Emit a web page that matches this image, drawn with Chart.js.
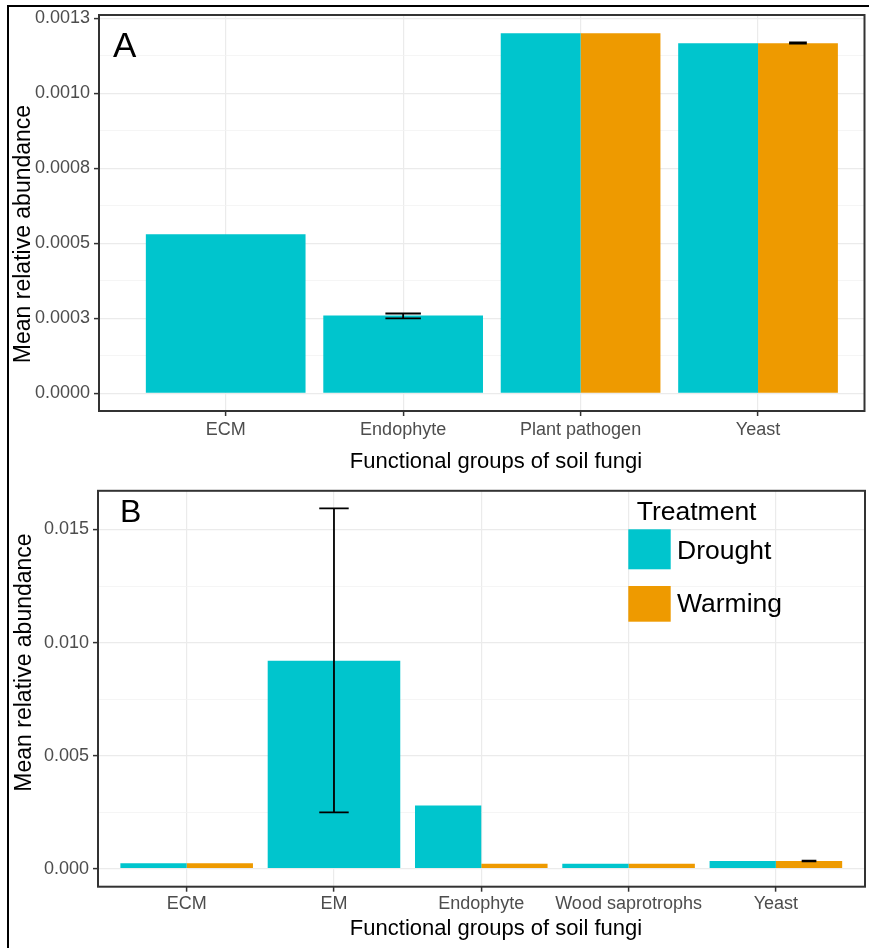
<!DOCTYPE html>
<html>
<head>
<meta charset="utf-8">
<script src="https://cdn.jsdelivr.net/npm/chart.js@4.4.0/dist/chart.umd.min.js"></script>
<style>
  html, body { margin: 0; padding: 0; background: #fff; }
  #page { position: relative; width: 869px; height: 948px; overflow: hidden; }
  #frame { position: absolute; left: 7px; top: 5px; right: -4px; bottom: -4px; border-top: 2px solid #000; border-left: 2px solid #000; }
  #panelA { position: absolute; left: 0; top: 0; }
  #panelB { position: absolute; left: 0; top: 476px; }
</style>
</head>
<body>
<div id="page">
  <div id="frame"></div>
  <canvas id="panelA" width="869" height="476"></canvas>
  <canvas id="panelB" width="869" height="472"></canvas>
</div>
<script>
// --- panel A data ---
const groupsA = ['ECM', 'Endophyte', 'Plant pathogen', 'Yeast'];
const droughtA = [0.00053, 0.000259, 0.0012, 0.001167];
const warmingA = [null, null, 0.0012, 0.001167];
const droughtErrA = [null, [0.00025, 0.000266], null, null];
const warmingErrA = [null, null, null, [0.001166, 0.00117]];
const yMajorA = [0, 0.00025, 0.0005, 0.00075, 0.001, 0.00125];
const yLabelsA = ['0.0000', '0.0003', '0.0005', '0.0008', '0.0010', '0.0013'];
const yMinorA = [0.000125, 0.000375, 0.000625, 0.000875, 0.001125];

// --- panel B data ---
const groupsB = ['ECM', 'EM', 'Endophyte', 'Wood saprotrophs', 'Yeast'];
const droughtB = [0.00024, 0.0092, 0.00279, 0.00022, 0.00034];
const warmingB = [0.00024, null, 0.00022, 0.00022, 0.00034];
const droughtErrB = [null, [0.00249, 0.01593], null, null, null];
const warmingErrB = [null, null, null, null, [0.00033, 0.00036]];
const yMajorB = [0, 0.005, 0.01, 0.015];
const yLabelsB = ['0.000', '0.005', '0.010', '0.015'];
const yMinorB = [0.0025, 0.0075, 0.0125];

const treatments = ['Drought', 'Warming'];
const legendTitle = 'Treatment';
const xTitle = 'Functional groups of soil fungi';
const yTitle = 'Mean relative abundance';
const colors = ['#00C5CD', '#EE9A00'];

const FONT = '"Liberation Sans", Arial, Helvetica, sans-serif';
Chart.defaults.font.family = FONT;

// panel border, error bars, axis titles, panel letter and legend
const panelExtras = {
  id: 'panelExtras',
  afterDatasetsDraw(chart, args, opts) {
    const ctx = chart.ctx;
    const area = chart.chartArea;
    const yScale = chart.scales.y;

    // error bars
    ctx.save();
    ctx.strokeStyle = '#000';
    ctx.lineWidth = 1.8;
    opts.errors.forEach((errs, di) => {
      const meta = chart.getDatasetMeta(di);
      errs.forEach((e, j) => {
        if (!e) return;
        const bar = meta.data[j];
        const w = bar.width * 0.2 / 0.9;
        const lo = yScale.getPixelForValue(e[0]);
        const hi = yScale.getPixelForValue(e[1]);
        ctx.beginPath();
        ctx.moveTo(bar.x, hi); ctx.lineTo(bar.x, lo);
        ctx.moveTo(bar.x - w / 2, hi); ctx.lineTo(bar.x + w / 2, hi);
        ctx.moveTo(bar.x - w / 2, lo); ctx.lineTo(bar.x + w / 2, lo);
        ctx.stroke();
      });
    });
    ctx.restore();

    // panel border
    ctx.save();
    ctx.strokeStyle = '#333';
    ctx.lineWidth = 2;
    ctx.strokeRect(area.left, area.top, area.right - area.left, area.bottom - area.top);

    // axis titles
    ctx.fillStyle = '#000';
    ctx.textAlign = 'center';
    ctx.textBaseline = 'middle';
    ctx.font = '22px ' + FONT;
    ctx.fillText(xTitle, opts.xTitleX, opts.xTitleY);
    ctx.save();
    ctx.translate(opts.yTitleX, opts.yTitleY);
    ctx.rotate(-Math.PI / 2);
    ctx.font = '23px ' + FONT;
    ctx.fillText(yTitle, 0, 0);
    ctx.restore();

    // panel letter
    ctx.textAlign = 'left';
    ctx.textBaseline = 'alphabetic';
    ctx.font = opts.letterSize + 'px ' + FONT;
    ctx.fillText(opts.letter, opts.letterX, opts.letterY);

    // legend
    if (opts.legend) {
      const L = opts.legend;
      ctx.font = L.size + 'px ' + FONT;
      ctx.fillText(legendTitle, L.titleX, L.titleY);
      treatments.forEach((t, i) => {
        const k = L.keys[i];
        ctx.fillStyle = colors[i];
        ctx.fillRect(L.keyX, k.top, L.keyW, k.h);
        ctx.fillStyle = '#000';
        ctx.fillText(t, L.textX, k.base);
      });
    }
    ctx.restore();
  }
};

function makePanel(canvas, p) {
  const isMajor = v => p.yMajor.indexOf(v) >= 0;
  return new Chart(canvas, {
    type: 'bar',
    data: {
      datasets: [
        { label: treatments[0], data: p.drought.map((v, i) => ({ x: i, y: v })), backgroundColor: colors[0] },
        { label: treatments[1], data: p.warming.map((v, i) => ({ x: i, y: v })), backgroundColor: colors[1] }
      ]
    },
    options: {
      responsive: false,
      animation: false,
      datasets: { bar: { skipNull: true, categoryPercentage: 0.9, barPercentage: 1, borderWidth: 0 } },
      layout: { padding: p.padding },
      plugins: {
        legend: { display: false },
        tooltip: { enabled: false },
        panelExtras: p.extras
      },
      scales: {
        x: {
          type: 'linear',
          offset: false,
          min: p.xMin,
          max: p.xMax,
          afterBuildTicks: s => { s.ticks = p.groups.map((g, i) => ({ value: i })); },
          afterFit: s => { s.height = p.xHeight; },
          ticks: {
            autoSkip: false, maxRotation: 0, padding: p.xTickPad,
            color: '#4d4d4d', font: { size: 18 },
            callback: v => p.groups[v]
          },
          grid: { offset: false, color: '#ebebeb', lineWidth: 1.2, tickLength: 5, tickColor: '#333', tickWidth: 1.5 },
          border: { display: false }
        },
        y: {
          min: p.yMin,
          max: p.yMax,
          afterBuildTicks: s => {
            s.ticks = p.yMajor.concat(p.yMinor).sort((a, b) => a - b).map(v => ({ value: v }));
          },
          afterFit: s => { s.width = p.yWidth; },
          ticks: {
            padding: 4, color: '#4d4d4d', font: { size: 18 },
            callback: v => { const k = p.yMajor.indexOf(v); return k >= 0 ? p.yLabels[k] : ''; }
          },
          grid: {
            color: c => (c.tick && isMajor(c.tick.value)) ? '#ebebeb' : '#f3f3f3',
            lineWidth: c => (c.tick && isMajor(c.tick.value)) ? 1.2 : 0.8,
            tickColor: c => (c.tick && isMajor(c.tick.value)) ? '#333' : 'rgba(0,0,0,0)',
            tickLength: 5, tickWidth: 1.5
          },
          border: { display: false }
        }
      }
    },
    plugins: [panelExtras]
  });
}

makePanel(document.getElementById('panelA'), {
  groups: groupsA, drought: droughtA, warming: warmingA,
  yMajor: yMajorA, yMinor: yMinorA, yLabels: yLabelsA,
  xMin: -0.714, xMax: 3.6, yMin: -0.000059, yMax: 0.001261,
  padding: { left: 0, top: 15, right: 4.5, bottom: 0 },
  yWidth: 99, xHeight: 65, xTickPad: 3,
  extras: {
    errors: [droughtErrA, warmingErrA],
    xTitleX: 496, xTitleY: 462, yTitleX: 23.5, yTitleY: 234,
    letter: 'A', letterSize: 35, letterX: 113, letterY: 57
  }
});

makePanel(document.getElementById('panelB'), {
  groups: groupsB, drought: droughtB, warming: warmingB,
  yMajor: yMajorB, yMinor: yMinorB, yLabels: yLabelsB,
  xMin: -0.602, xMax: 4.605, yMin: -0.000796, yMax: 0.016711,
  padding: { left: 0, top: 14.7, right: 4, bottom: 0 },
  yWidth: 98, xHeight: 61.3, xTickPad: 2,
  extras: {
    errors: [droughtErrB, warmingErrB],
    xTitleX: 496, xTitleY: 452.5, yTitleX: 24.2, yTitleY: 186.5,
    letter: 'B', letterSize: 32, letterX: 120, letterY: 45.7,
    legend: {
      size: 26.5, titleX: 636.7, titleY: 44,
      keyX: 628.3, keyW: 42.4, textX: 677,
      keys: [{ top: 53.3, h: 40, base: 83.3 }, { top: 110, h: 35.7, base: 135.7 }]
    }
  }
});
</script>
</body>
</html>
